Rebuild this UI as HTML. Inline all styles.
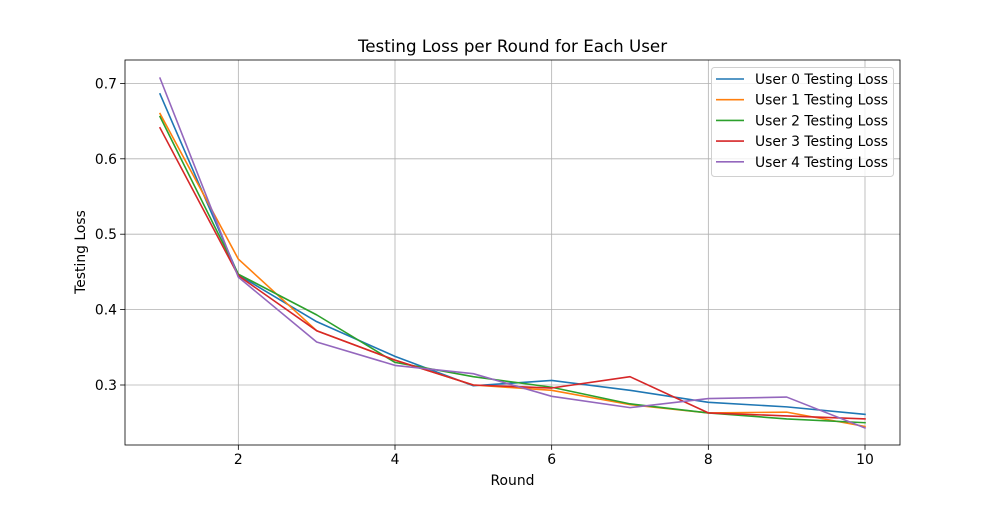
<!DOCTYPE html>
<html><head><meta charset="utf-8"><style>
body{margin:0;background:#fff}
svg text{font-family:"DejaVu Sans","Liberation Sans",sans-serif;fill:#000}
</style></head><body>
<svg id="chart" width="1000" height="500" viewBox="0 0 1000 500" xmlns="http://www.w3.org/2000/svg">
<rect width="1000" height="500" fill="#fff"/>
<g id="grid"></g><g id="series"></g><g id="axes"></g><g id="legend"></g>
</svg>
<script>
const rounds=[1,2,3,4,5,6,7,8,9,10];
const user0=[0.686,0.446,0.384,0.338,0.299,0.306,0.293,0.277,0.271,0.261];
const user1=[0.660,0.467,0.372,0.333,0.300,0.293,0.274,0.263,0.264,0.245];
const user2=[0.656,0.447,0.393,0.330,0.311,0.297,0.275,0.263,0.255,0.250];
const user3=[0.641,0.445,0.372,0.333,0.300,0.296,0.311,0.263,0.259,0.255];
const user4=[0.707,0.443,0.357,0.326,0.315,0.285,0.270,0.282,0.284,0.243];
const seriesNames=["User 0 Testing Loss","User 1 Testing Loss","User 2 Testing Loss","User 3 Testing Loss","User 4 Testing Loss"];
const xTicks=[2,4,6,8,10];
const yTicks=[0.3,0.4,0.5,0.6,0.7];
const colors=["#1f77b4","#ff7f0e","#2ca02c","#d62728","#9467bd"];
const allSeries=[user0,user1,user2,user3,user4];
const L=125,R=900,T=60,B=445;
const xs=v=>160+(v-1)*(865-160)/9;
const ys=v=>385-(v-0.3)*754;
const NS="http://www.w3.org/2000/svg";
function mk(tag,attrs,parent,txt){const e=document.createElementNS(NS,tag);for(const k in attrs)e.setAttribute(k,attrs[k]);if(txt!==undefined)e.textContent=txt;parent.appendChild(e);return e;}
const grid=document.getElementById('grid'),ser=document.getElementById('series'),ax=document.getElementById('axes'),lg=document.getElementById('legend');
xTicks.forEach(t=>{const x=xs(t);
 let g=mk('line',{x1:x,x2:x,y1:T,y2:B,stroke:'#b0b0b0','stroke-width':0.8},grid);
 
 
 mk('line',{x1:x,x2:x,y1:B,y2:B+4.9,stroke:'#000','stroke-width':0.8},ax);
 let l=mk('text',{x:x,y:B+19,'text-anchor':'middle','font-size':13.9},ax,String(t));
 
 
});
yTicks.forEach(t=>{const y=ys(t);
 let g=mk('line',{x1:L,x2:R,y1:y,y2:y,stroke:'#b0b0b0','stroke-width':0.8},grid);
 
 
 mk('line',{x1:L-4.9,x2:L,y1:y,y2:y,stroke:'#000','stroke-width':0.8},ax);
 let l=mk('text',{x:L-8,y:y+5,'text-anchor':'end','font-size':13.9},ax,t.toFixed(1));
 
 
});
allSeries.forEach((s,i)=>{
 const p=mk('polyline',{points:s.map((v,j)=>xs(rounds[j])+','+ys(v)).join(' '),fill:'none',stroke:colors[i],'stroke-width':1.6,'stroke-linejoin':'round','stroke-linecap':'square'},ser);
 
 
});
const fr=mk('rect',{x:L,y:T,width:R-L,height:B-T,fill:'none',stroke:'#000','stroke-width':0.8},ax);


let tt=mk('text',{x:(L+R)/2,y:T-8,'text-anchor':'middle','font-size':16.7},ax,'Testing Loss per Round for Each User');


let xt=mk('text',{x:(L+R)/2,y:485,'text-anchor':'middle','font-size':13.9},ax,'Round');


let yt=mk('text',{x:0,y:0,'text-anchor':'middle','font-size':13.9,transform:'translate(85,252) rotate(-90)'},ax,'Testing Loss');


const lb=mk('rect',{x:711.5,y:67.5,width:182,height:109,rx:3,fill:'#fff','fill-opacity':0.8,stroke:'#d0d0d0','stroke-width':1},lg);


seriesNames.forEach((n,i)=>{const y=79+i*20.7;
 const g=mk('g',{},lg);
 
 
 mk('line',{x1:716,x2:744,y1:y,y2:y,stroke:colors[i],'stroke-width':1.6},g);
 mk('text',{x:755,y:y+5,'font-size':13.9},g,n);
});
</script>
</body></html>
